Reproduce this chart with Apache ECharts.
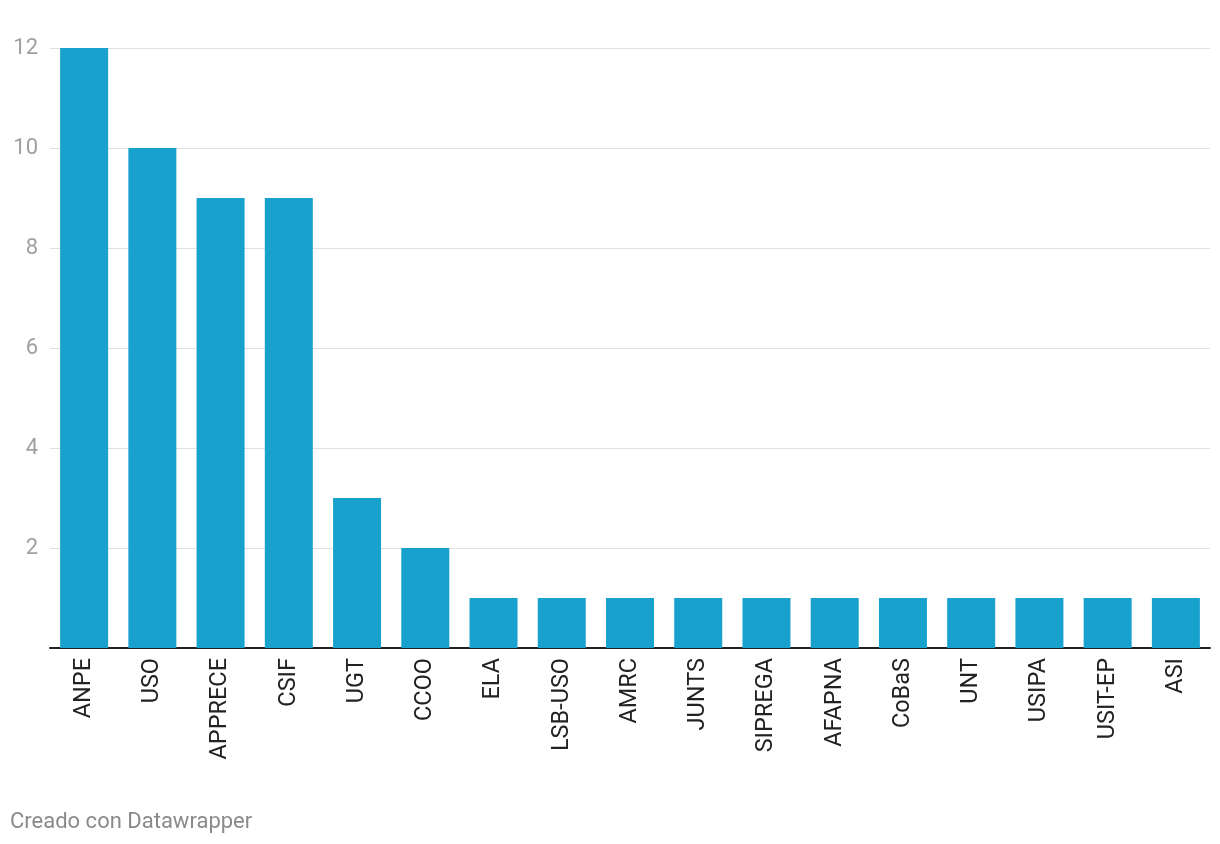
<!DOCTYPE html>
<html><head><meta charset="utf-8">
<script src="https://cdn.jsdelivr.net/npm/echarts@6/dist/echarts.min.js"></script>
<style>html,body{margin:0;padding:0;background:#fff;}#c{width:1220px;height:844px;}</style>
</head><body><div id="c"></div>
<script>
const categories = ['ANPE','USO','APPRECE','CSIF','UGT','CCOO','ELA','LSB-USO','AMRC','JUNTS','SIPREGA','AFAPNA','CoBaS','UNT','USIPA','USIT-EP','ASI'];
const values = [12,10,9,9,3,2,1,1,1,1,1,1,1,1,1,1,1];
const yTicks = [2,4,6,8,10,12];
const chart = echarts.init(document.getElementById('c'));
chart.setOption({
  animation:false,
  textStyle:{fontFamily:'Roboto'},
  grid:{left:50,right:10,top:48,bottom:196,containLabel:false},
  xAxis:{type:'category',data:categories,
    axisLine:{lineStyle:{color:'#222',width:2}},axisTick:{show:false},
    axisLabel:{rotate:90,fontSize:23.5,color:'#222',margin:10,fontFamily:'Roboto',interval:0}},
  yAxis:{type:'value',min:0,max:12,interval:2,
    axisLine:{show:false},axisTick:{show:false},
    splitLine:{lineStyle:{color:'#e0e0e0',width:1}},
    axisLabel:{fontSize:22,color:'#a0a0a0',margin:12,fontFamily:'Roboto',
      formatter:v=>yTicks.includes(v)?String(v):''}},
  series:[{type:'bar',data:values,barWidth:48,itemStyle:{color:'#18a1cd'}}],
  graphic:[{type:'text',left:10,top:811,style:{text:'Creado con Datawrapper',fontSize:22,fill:'#8a8a8a',fontFamily:'Roboto'}}]
});
</script></body></html>
